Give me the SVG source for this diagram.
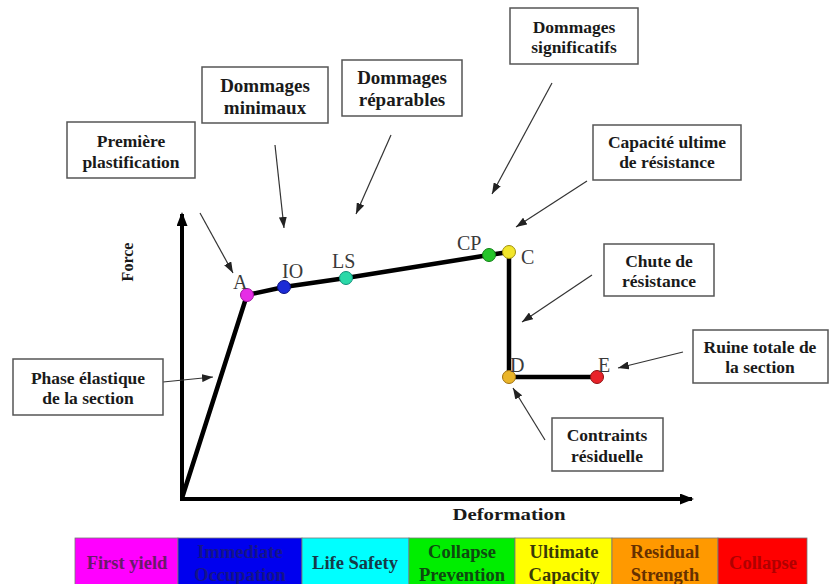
<svg xmlns="http://www.w3.org/2000/svg" width="829" height="584" viewBox="0 0 829 584">
<defs>
<style>
.box{fill:#fff;stroke:#555;stroke-width:1.5}
.bt{font-family:"Liberation Serif","Times New Roman",serif;font-weight:bold;font-size:17.5px;fill:#1a1a1a;text-anchor:middle}
.bt2{font-family:"Liberation Serif","Times New Roman",serif;font-weight:bold;font-size:19px;fill:#1a1a1a;text-anchor:middle}
.pl{font-family:"Liberation Serif","Times New Roman",serif;font-size:20px;fill:#3a3a3a}
.ax{font-family:"Liberation Serif","Times New Roman",serif;font-weight:bold;font-size:16px;fill:#1a1a1a;text-anchor:middle}
.lg{font-family:"Liberation Serif","Times New Roman",serif;font-weight:bold;font-size:18.5px;text-anchor:middle}
.cell{stroke:#777;stroke-width:0.8}
.con{stroke:#333;stroke-width:1.2;fill:none;marker-end:url(#ah)}
.dot{stroke-width:1}
</style>
<marker id="ah" markerWidth="11" markerHeight="8" refX="11" refY="4" orient="auto" markerUnits="userSpaceOnUse"><path d="M0,0 L11,4 L0,8 z" fill="#222"/></marker>
<marker id="axh" markerWidth="14" markerHeight="11" refX="12" refY="5.5" orient="auto" markerUnits="userSpaceOnUse"><path d="M0,0 L14,5.5 L0,11 z" fill="#000"/></marker>
</defs>
<rect width="829" height="584" fill="#fff"/>

<g id="axes">
<line x1="182" y1="500" x2="182" y2="214" stroke="#000" stroke-width="4" marker-end="url(#axh)"/>
<line x1="180" y1="499" x2="692" y2="499" stroke="#000" stroke-width="4" marker-end="url(#axh)"/>
<text class="ax" transform="translate(133,262) rotate(-90)">Force</text>
<text class="ax" x="509" y="520" textLength="113" lengthAdjust="spacingAndGlyphs">Deformation</text>
</g>

<g id="curve">
<polyline points="182,498 247,295 284,287 346,278 489,255 509,252 509,377 597,377" fill="none" stroke="#000" stroke-width="4.5" stroke-linejoin="miter"/>
</g>

<g id="connectors">
<line class="con" x1="200" y1="213" x2="233" y2="273"/>
<line class="con" x1="275" y1="145" x2="284" y2="228"/>
<line class="con" x1="391" y1="135" x2="356" y2="214"/>
<line class="con" x1="552" y1="83" x2="492" y2="194"/>
<line class="con" x1="587" y1="181" x2="516" y2="227"/>
<line class="con" x1="592" y1="275" x2="522" y2="322"/>
<line class="con" x1="683" y1="352" x2="618" y2="368"/>
<line class="con" x1="545" y1="440" x2="513" y2="388"/>
<line class="con" x1="163" y1="382" x2="213" y2="377"/>
</g>

<g id="pointA"><circle class="dot" cx="247" cy="295" r="6.5" fill="#e62ee6" stroke="#a010a0"/><text class="pl" x="233" y="289">A</text></g>
<g id="pointIO"><circle class="dot" cx="284" cy="287" r="6.5" fill="#1c2bd6" stroke="#0a1080"/><text class="pl" x="282" y="278">IO</text></g>
<g id="pointLS"><circle class="dot" cx="346" cy="278" r="6.5" fill="#2ad9a8" stroke="#10907a"/><text class="pl" x="332" y="268" fill="#503434">LS</text></g>
<g id="pointCP"><circle class="dot" cx="489" cy="255" r="6.5" fill="#25c52a" stroke="#108015"/><text class="pl" x="457" y="250">CP</text></g>
<g id="pointC"><circle class="dot" cx="509" cy="252" r="6.5" fill="#f2e62a" stroke="#a09010"/><text class="pl" x="521" y="264">C</text></g>
<g id="pointD"><circle class="dot" cx="509" cy="377" r="6.5" fill="#eab52a" stroke="#a07010"/><text class="pl" x="510" y="372">D</text></g>
<g id="pointE"><circle class="dot" cx="597" cy="377" r="6.5" fill="#e8222a" stroke="#901010"/><text class="pl" x="598" y="372">E</text></g>

<g id="box-premiere"><rect class="box" x="67" y="122" width="128" height="56"/><text class="bt" x="131" y="147">Première</text><text class="bt" x="131" y="168">plastification</text></g>
<g id="box-minimaux"><rect class="box" x="202" y="67" width="126" height="56"/><text class="bt2" x="265" y="92">Dommages</text><text class="bt2" x="265" y="114">minimaux</text></g>
<g id="box-reparables"><rect class="box" x="342" y="60" width="120" height="56"/><text class="bt2" x="402" y="84">Dommages</text><text class="bt2" x="402" y="106">réparables</text></g>
<g id="box-significatifs"><rect class="box" x="510" y="8" width="128" height="56"/><text class="bt" x="574" y="33">Dommages</text><text class="bt" x="574" y="53">significatifs</text></g>
<g id="box-capacite"><rect class="box" x="593" y="125" width="148" height="55"/><text class="bt" x="667" y="148">Capacité ultime</text><text class="bt" x="667" y="168">de résistance</text></g>
<g id="box-chute"><rect class="box" x="604" y="244" width="110" height="52"/><text class="bt" x="659" y="267">Chute de</text><text class="bt" x="659" y="287">résistance</text></g>
<g id="box-ruine"><rect class="box" x="693" y="330" width="135" height="53"/><text class="bt" x="760" y="353">Ruine totale de</text><text class="bt" x="760" y="373">la section</text></g>
<g id="box-contraints"><rect class="box" x="552" y="418" width="111" height="53"/><text class="bt" x="607" y="441">Contraints</text><text class="bt" x="607" y="462">résiduelle</text></g>
<g id="box-phase"><rect class="box" x="13" y="359" width="150" height="56"/><text class="bt" x="88" y="384">Phase élastique</text><text class="bt" x="88" y="404">de la section</text></g>

<g id="legend">
<rect class="cell" x="75" y="538" width="103" height="48" fill="#ff00ff"/>
<rect class="cell" x="178" y="538" width="124" height="48" fill="#0000ee"/>
<rect class="cell" x="302" y="538" width="107" height="48" fill="#00ffff"/>
<rect class="cell" x="409" y="538" width="106" height="48" fill="#00ee00"/>
<rect class="cell" x="515" y="538" width="97" height="48" fill="#ffff00"/>
<rect class="cell" x="612" y="538" width="106" height="48" fill="#ff9900"/>
<rect class="cell" x="718" y="538" width="89" height="48" fill="#ff0000"/>
<text class="lg" x="127" y="569" fill="#6a1a6a">First yield</text>
<text class="lg" x="240" y="558" fill="#14148a">Immediate</text>
<text class="lg" x="240" y="581" fill="#14148a">Occupation</text>
<text class="lg" x="355" y="569" fill="#163a48">Life Safety</text>
<text class="lg" x="462" y="558" fill="#0e4a10">Collapse</text>
<text class="lg" x="462" y="581" fill="#0e4a10">Prevention</text>
<text class="lg" x="564" y="558" fill="#3a3a08">Ultimate</text>
<text class="lg" x="564" y="581" fill="#3a3a08">Capacity</text>
<text class="lg" x="665" y="558" fill="#663000">Residual</text>
<text class="lg" x="665" y="581" fill="#663000">Strength</text>
<text class="lg" x="763" y="569" fill="#b00000">Collapse</text>
</g>
</svg>
